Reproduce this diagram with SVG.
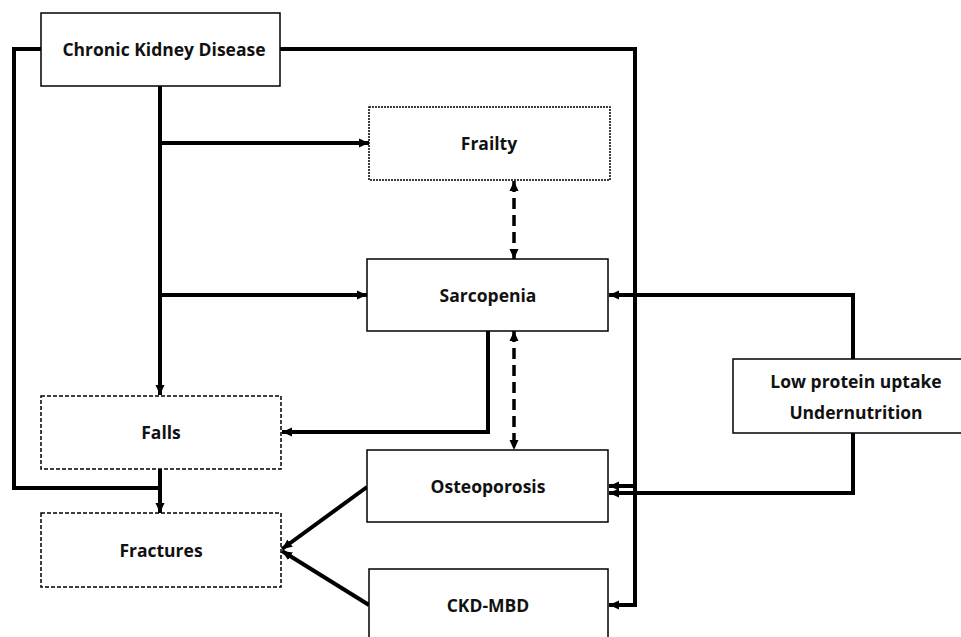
<svg xmlns="http://www.w3.org/2000/svg" width="961" height="637" viewBox="0 0 961 637">
<style>
.box{fill:#fff;stroke:#000;stroke-width:1.5}
.dash{stroke-dasharray:4 2}
.lbl{font-family:"Open Sans","Liberation Sans",sans-serif;font-weight:700;font-size:17.5px;fill:#111;text-anchor:middle;dominant-baseline:central}
.c{fill:none;stroke:#000;stroke-width:4;stroke-linejoin:miter}
.d{fill:none;stroke:#000;stroke-width:3.5;stroke-dasharray:11 6}
</style>
<defs>
<marker id="ah" markerUnits="userSpaceOnUse" markerWidth="10" markerHeight="10" refX="10" refY="5" orient="auto-start-reverse" viewBox="0 0 10 10">
<path d="M0,0.5 L10,5 L0,9.5 z" fill="#000"/>
</marker>
</defs>
<rect width="961" height="637" fill="#fff"/>
<g id="connectors">
<polyline class="c" points="41,49 14,49 14,488 160,488"/>
<line class="c" x1="160" y1="86" x2="160" y2="395" marker-end="url(#ah)"/>
<line class="c" x1="160" y1="143" x2="369" y2="143" marker-end="url(#ah)"/>
<line class="c" x1="160" y1="295" x2="367" y2="295" marker-end="url(#ah)"/>
<line class="c" x1="160" y1="469" x2="160" y2="513" marker-end="url(#ah)"/>
<line class="d" x1="514" y1="181" x2="514" y2="259" marker-start="url(#ah)" marker-end="url(#ah)"/>
<line class="d" x1="514" y1="331" x2="514" y2="450" marker-start="url(#ah)" marker-end="url(#ah)"/>
<polyline class="c" points="488,331 488,432 282,432" marker-end="url(#ah)"/>
<polyline class="c" points="280,49 635,49 635,605 609,605" marker-end="url(#ah)"/>
<line class="c" x1="635" y1="486" x2="609" y2="486" marker-end="url(#ah)"/>
<polyline class="c" points="853,359 853,295 609,295" marker-end="url(#ah)"/>
<polyline class="c" points="853,433 853,493 609,493" marker-end="url(#ah)"/>
<line class="c" x1="367" y1="487" x2="282" y2="549" marker-end="url(#ah)"/>
<line class="c" x1="369" y1="605" x2="282" y2="551" marker-end="url(#ah)"/>
</g>
<g id="ckd"><rect class="box" x="41" y="13" width="239" height="73"/><text class="lbl" x="164" y="49">Chronic Kidney Disease</text></g>
<g id="frailty"><rect class="box dash" style="stroke-dasharray:2 1" x="369" y="107" width="241" height="73"/><text class="lbl" x="489" y="143">Frailty</text></g>
<g id="sarcopenia"><rect class="box" x="367" y="259" width="241" height="72"/><text class="lbl" x="488" y="295">Sarcopenia</text></g>
<g id="falls"><rect class="box dash" x="41" y="396" width="240" height="73"/><text class="lbl" x="161" y="432">Falls</text></g>
<g id="fractures"><rect class="box dash" x="41" y="513" width="240" height="74"/><text class="lbl" x="161" y="550">Fractures</text></g>
<g id="osteoporosis"><rect class="box" x="367" y="450" width="241" height="72"/><text class="lbl" x="488" y="486">Osteoporosis</text></g>
<g id="ckdmbd"><rect class="box" x="369" y="569" width="239" height="72"/><text class="lbl" x="488" y="605">CKD-MBD</text></g>
<g id="lowprotein"><rect class="box" x="733" y="359" width="230" height="74"/><text class="lbl" x="856" y="381">Low protein uptake</text><text class="lbl" x="856" y="412">Undernutrition</text></g>
</svg>
